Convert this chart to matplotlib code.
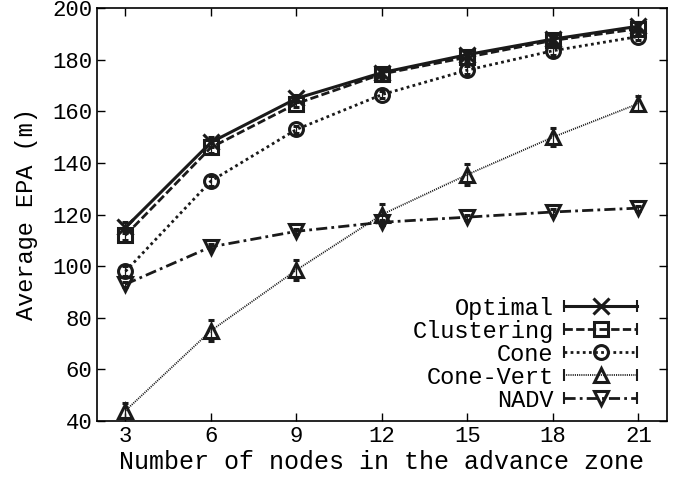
import matplotlib.pyplot as plt
from matplotlib.lines import Line2D
from matplotlib.legend_handler import HandlerLine2D, HandlerTuple

plt.rcParams['font.family'] = ['Liberation Mono', 'DejaVu Sans Mono']

nodes = [3, 6, 9, 12, 15, 18, 21]
optimal = [115, 148, 165, 175, 182, 188, 193]
clustering = [112, 146, 163, 174.5, 181, 187.5, 192]
cone = [98, 133, 153, 166.5, 176, 183.5, 189]
cone_vert = [44, 75, 98.5, 120, 135.5, 150, 163]
nadv = [93, 107.5, 113.5, 117, 119, 121, 122.5]

err_optimal = [2, 2, 1.5, 1.5, 1.5, 1.5, 1.5]
err_clustering = [2, 2, 1.5, 1.5, 1.5, 1.5, 1.5]
err_cone = [2, 2, 1.5, 1.5, 1.5, 1.5, 1.5]
err_cone_vert = [3, 4, 4, 4, 4, 3.5, 3]
err_nadv = [1, 1, 1, 1, 1, 1, 1]

series = [
    ("Optimal", optimal, err_optimal, '-', 'x', 2.2),
    ("Clustering", clustering, err_clustering, (0, (3, 1.2)), 's', 2.0),
    ("Cone", cone, err_cone, (0, (1, 1.2)), 'o', 2.0),
    ("Cone-Vert", cone_vert, err_cone_vert, (0, (0.6, 0.6)), '^', 1.3),
    ("NADV", nadv, err_nadv, (0, (4, 1.5, 1, 1.5)), 'v', 2.0),
]

fig = plt.figure(figsize=(6.76, 4.8), dpi=100)
ax = fig.add_axes([0.1435, 0.123, 0.843, 0.86])

handles = []
hmap = {}
for name, y, e, ls, mk, lw in series:
    ax.errorbar(nodes, y, yerr=e, color='#1a1a1a', linestyle=ls, linewidth=lw,
                marker=mk, markersize=10 if mk != 'x' else 11,
                markerfacecolor='none', markeredgewidth=2.2,
                ecolor='#1a1a1a', elinewidth=0.9, capsize=2.5)
    line = Line2D([], [], color='#1a1a1a', linestyle=ls, linewidth=lw,
                  marker='|', markersize=8, markeredgewidth=1.5)
    mark = Line2D([], [], color='#1a1a1a', linestyle='none', marker=mk,
                  markersize=10 if mk != 'x' else 11,
                  markerfacecolor='none', markeredgewidth=2.2)
    hmap[line] = HandlerLine2D(numpoints=2, marker_pad=0)
    hmap[mark] = HandlerLine2D(numpoints=1)
    handles.append((line, mark))

hmap[tuple] = HandlerTuple(ndivide=1, pad=0)
ax.legend(handles, [s[0] for s in series], handler_map=hmap, loc='lower right',
          frameon=False, markerfirst=False, fontsize=17, handlelength=3.1,
          labelspacing=0.0, handletextpad=0.45, borderaxespad=0.0,
          bbox_to_anchor=(0.965, 0.0))

ax.set_xlim(2, 22)
ax.set_ylim(40, 200)
ax.set_xticks(nodes)
ax.set_yticks(range(40, 201, 20))
ax.tick_params(direction='in', top=True, right=True, length=6, labelsize=16,
               width=1.0)
for s in ax.spines.values():
    s.set_linewidth(1.2)
ax.set_xlabel("Number of nodes in the advance zone", fontsize=18, labelpad=2)
ax.set_ylabel("Average EPA (m)", fontsize=17, labelpad=10)

fig.savefig("out.png", dpi=100)
